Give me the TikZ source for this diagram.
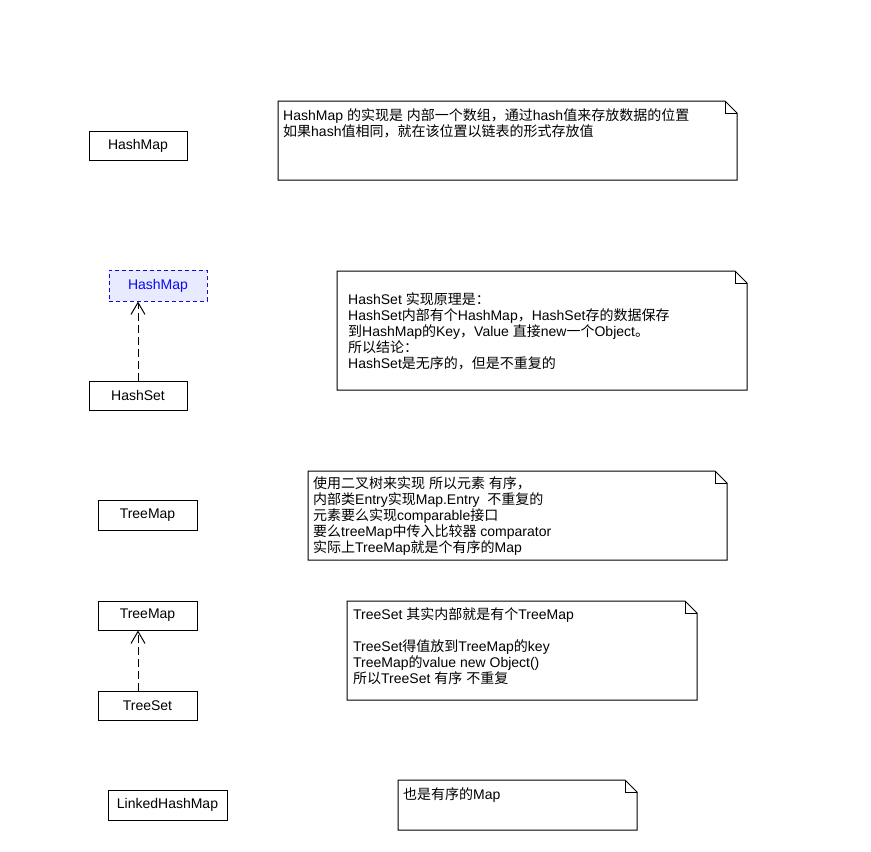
\documentclass[tikz,border=0pt]{standalone}
\usepackage{fontspec}
\setmainfont{Liberation Sans}
\newfontfamily\cjkfont{Noto Sans CJK SC}
\usetikzlibrary{arrows.meta}
\newcommand\zh[1]{{\cjkfont #1}}
\definecolor{hintfill}{RGB}{232,234,255}
\definecolor{hintblue}{RGB}{10,10,235}

% UML note: invisible node plus folded-corner outline
\newcommand\umlnote[5]{%
  \node[notearea, minimum width={#4-#2}, minimum height={#5-#3}] (#1) at ({(#2+#4)/2},{(#3+#5)/2}) {};
  \draw[noteline] (#1.north west) -- ([xshift=-12pt]#1.north east) -- ([yshift=-12pt]#1.north east)
        -- (#1.south east) -- (#1.south west) -- cycle;
  \draw[noteline] ([xshift=-12pt]#1.north east) -- ([xshift=-12pt,yshift=-12pt]#1.north east)
        -- ([yshift=-12pt]#1.north east);}

\tikzset{
  txt/.style={font=\fontsize{14}{16}\selectfont},
  cls/.style={txt, draw, line width=1pt, minimum width=98pt, minimum height=29pt, inner sep=0pt},
  hint/.style={cls, draw=hintblue, fill=hintfill, text=hintblue, dash pattern=on 4pt off 3pt},
  notearea/.style={rectangle, inner sep=0pt, outer sep=0pt},
  noteline/.style={line width=1pt, line join=miter},
  notetext/.style={txt, anchor=north west, inner sep=0pt, align=left},
  dep/.style={line width=1pt, dash pattern=on 8pt off 4pt,
              -{Straight Barb[length=12pt,width=14pt,line width=1pt]}},
}

\newcommand\firstline{\rule{0pt}{13pt}}

\begin{document}
\begin{tikzpicture}[x=1pt,y=-1pt]
\useasboundingbox (0,0) rectangle (871,852);
\fill[white] (0,0) rectangle (871,852);

% class boxes
\node[cls] (hm1) at (138,145.5) {HashMap};
\node[hint, minimum height=31pt] (hm2) at (158,285.5) {HashMap};
\node[cls] (hs) at (138,395.5) {HashSet};
\node[cls, minimum width=99pt, minimum height=30pt] (tm1) at (147.5,515) {TreeMap};
\node[cls, minimum width=99pt] (tm2) at (147.5,615.5) {TreeMap};
\node[cls, minimum width=99pt] (ts) at (147.5,705.5) {TreeSet};
\node[cls, minimum width=119pt, minimum height=30pt] (lhm) at (167.5,805) {LinkedHashMap};

% dependencies
\draw[dep] (hs.north) -- (hs.north |- hm2.south);
\draw[dep] ([xshift=-9.5pt]ts.north) -- ([xshift=-9.5pt]tm2.south);

% notes
\umlnote{n1}{278}{101}{737}{180}
\umlnote{n2}{337}{271}{747}{390}
\umlnote{n3}{308}{471}{727}{560}
\umlnote{n5}{347}{601}{697}{700}
\umlnote{n4}{398}{780}{637}{830}

\node[notetext] (n1t) at (283,107) {\firstline HashMap \zh{的实现是} \zh{内部一个数组，通过}hash\zh{值来存放数据的位置}\\
  \zh{如果}hash\zh{值相同，就在该位置以链表的形式存放值}};

\node[notetext] (n2t) at (348,291) {\firstline HashSet \zh{实现原理是：}\\
  HashSet\zh{内部有个}HashMap\zh{，}HashSet\zh{存的数据保存}\\
  \zh{到}HashMap\zh{的}Key\zh{，}Value \zh{直接}new\zh{一个}Object\zh{。}\\
  \zh{所以结论：}\\
  HashSet\zh{是无序的，但是不重复的}};

\node[notetext] (n3t) at (313,475) {\firstline\zh{使用二叉树来实现} \zh{所以元素} \zh{有序，}\\
  \zh{内部类}Entry\zh{实现}Map.Entry\ \ \zh{不重复的}\\
  \zh{元素要么实现}comparable\zh{接口}\\
  \zh{要么}treeMap\zh{中传入比较器} comparator\\
  \zh{实际上}TreeMap\zh{就是个有序的}Map};

\node[notetext] (n5t) at (353,606) {\firstline TreeSet \zh{其实内部就是有个}TreeMap\\[16pt]
  TreeSet\zh{得值放到}TreeMap\zh{的}key\\
  TreeMap\zh{的}value new Object()\\
  \zh{所以}TreeSet \zh{有序} \zh{不重复}};

\node[notetext] (n4t) at (403,786) {\firstline\zh{也是有序的}Map};
\end{tikzpicture}
\end{document}
